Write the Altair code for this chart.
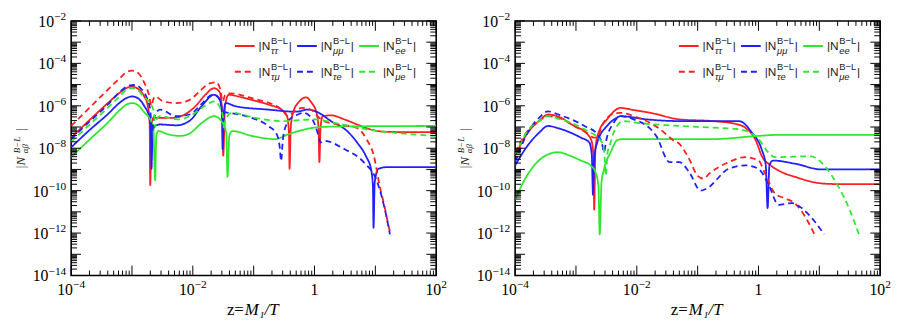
import altair as alt
import pandas as pd

# ---- series identity ----
SERIES = ["tt", "mm", "ee", "tm", "te", "me"]
SUBS = ["ττ", "μμ", "ee", "τμ", "τe", "μe"]
COLORS = ["#ff1f1f", "#1f1fff", "#2ee82e", "#ff1f1f", "#1f1fff", "#2ee82e"]
DASHES = [[1, 0], [1, 0], [1, 0], [6, 4], [6, 4], [6, 4]]

# ---- data: (log10 z, log10 |N|) ----
# left panel
L_TT = [(-4.0, -7.50), (-3.7, -6.68), (-3.4, -5.88), (-3.2, -5.38), (-3.08, -5.15), (-3.0, -5.10),
        (-2.9, -5.20), (-2.8, -5.55), (-2.74, -6.0), (-2.71, -6.8), (-2.70, -9.74), (-2.68, -7.0),
        (-2.65, -6.57), (-2.55, -6.57), (-2.35, -6.57), (-2.16, -6.45), (-1.95, -6.0), (-1.8, -5.5),
        (-1.65, -5.17), (-1.56, -5.35), (-1.52, -6.2), (-1.50, -8.35), (-1.47, -6.0), (-1.41, -5.48),
        (-1.2, -5.60), (-1.03, -5.72), (-0.75, -5.95), (-0.54, -6.18), (-0.45, -6.5), (-0.42, -7.3),
        (-0.41, -8.97), (-0.39, -7.0), (-0.35, -6.3), (-0.25, -5.8), (-0.14, -5.6), (-0.05, -5.85),
        (0.03, -6.3), (0.065, -7.0), (0.08, -8.66), (0.10, -7.0), (0.135, -6.49), (0.27, -6.45),
        (0.5, -6.65), (0.7, -6.88), (0.97, -7.15), (1.13, -7.22), (1.5, -7.24), (2.0, -7.24)]
L_TM = [(-4.0, -6.95), (-3.7, -6.1), (-3.4, -5.25), (-3.2, -4.7), (-3.08, -4.40), (-3.0, -4.34),
        (-2.9, -4.45), (-2.8, -4.9), (-2.72, -5.5), (-2.68, -6.0), (-2.65, -5.7), (-2.62, -5.56),
        (-2.49, -5.79), (-2.27, -5.87), (-2.05, -5.72), (-1.9, -5.35), (-1.73, -4.95), (-1.62, -4.89),
        (-1.55, -5.2), (-1.51, -5.8), (-1.47, -5.5), (-1.41, -5.41), (-1.03, -5.64), (-0.54, -6.18),
        (-0.43, -6.5), (-0.35, -6.3), (-0.2, -6.1), (-0.05, -6.2), (0.05, -6.5), (0.16, -6.72),
        (0.45, -6.9), (0.70, -7.05), (0.86, -7.6), (0.97, -8.3), (1.08, -9.9), (1.14, -10.6),
        (1.24, -11.9), (1.27, -12.1)]
L_MM = [(-4.0, -7.96), (-3.7, -7.15), (-3.4, -6.4), (-3.2, -5.85), (-3.08, -5.62), (-3.0, -5.56),
        (-2.9, -5.65), (-2.8, -6.0), (-2.72, -6.5), (-2.69, -7.2), (-2.68, -8.97), (-2.66, -7.2),
        (-2.62, -6.95), (-2.54, -6.88), (-2.27, -6.92), (-2.05, -6.7), (-1.85, -6.0), (-1.65, -5.48),
        (-1.56, -5.7), (-1.52, -6.4), (-1.51, -8.04), (-1.49, -6.3), (-1.46, -5.87), (-1.30, -6.02),
        (-0.76, -6.18), (-0.3, -6.28), (-0.11, -6.18), (0.05, -6.3), (0.27, -6.72), (0.54, -7.2),
        (0.70, -7.73), (0.85, -8.4), (0.93, -9.0), (0.96, -9.8), (0.97, -11.75), (0.99, -9.6),
        (1.05, -8.97), (1.19, -8.89), (2.0, -8.89)]
L_TE = [(-4.0, -7.57), (-3.7, -6.75), (-3.4, -5.95), (-3.2, -5.35), (-3.05, -5.05), (-2.95, -5.02),
        (-2.85, -5.2), (-2.76, -5.6), (-2.70, -6.2), (-2.67, -7.2), (-2.63, -6.5), (-2.54, -6.18),
        (-2.27, -6.49), (-2.05, -6.41), (-1.85, -5.9), (-1.68, -5.48), (-1.58, -5.6), (-1.53, -6.0),
        (-1.51, -6.6), (-1.48, -6.3), (-1.41, -6.33), (-1.03, -6.57), (-0.76, -6.95), (-0.62, -7.35),
        (-0.57, -8.0), (-0.55, -8.6), (-0.52, -7.6), (-0.45, -6.8), (-0.41, -6.64), (-0.27, -6.41),
        (-0.19, -6.33), (-0.05, -6.57), (0.05, -7.26), (0.10, -7.73), (0.16, -7.65), (0.49, -8.04),
        (0.81, -8.66), (1.03, -9.59), (1.15, -10.8), (1.24, -12.06)]
L_EE = [(-4.0, -8.42), (-3.7, -7.6), (-3.4, -6.8), (-3.2, -6.2), (-3.08, -5.93), (-3.0, -5.87),
        (-2.9, -5.97), (-2.8, -6.3), (-2.70, -6.64), (-2.65, -7.0), (-2.62, -9.51), (-2.60, -7.4),
        (-2.57, -7.19), (-2.4, -7.35), (-2.22, -7.42), (-2.05, -7.3), (-1.85, -6.8), (-1.65, -6.49),
        (-1.51, -6.8), (-1.45, -7.3), (-1.43, -9.35), (-1.40, -7.4), (-1.35, -7.19), (-1.03, -7.42),
        (-0.65, -7.57), (-0.43, -7.34), (0.0, -7.03), (0.32, -6.98), (2.0, -6.95)]
L_ME = [(-4.0, -7.70), (-3.7, -6.9), (-3.4, -6.1), (-3.2, -5.55), (-3.08, -5.22), (-3.0, -5.17),
        (-2.9, -5.27), (-2.8, -5.6), (-2.70, -5.87), (-2.64, -6.3), (-2.62, -7.0), (-2.59, -6.6),
        (-2.54, -6.49), (-2.22, -6.64), (-2.0, -6.4), (-1.8, -6.0), (-1.65, -5.79), (-1.55, -6.1),
        (-1.50, -6.6), (-1.49, -7.1), (-1.46, -6.6), (-1.35, -6.33), (-0.97, -6.57), (-0.54, -6.72),
        (0.0, -6.64), (0.32, -6.8), (0.86, -7.11), (1.41, -7.3), (2.0, -7.42)]

# right panel
R_TT = [(-4.0, -8.35), (-3.8, -7.3), (-3.6, -6.7), (-3.46, -6.41), (-3.3, -6.5), (-3.03, -6.95),
        (-2.81, -7.34), (-2.74, -7.7), (-2.71, -8.5), (-2.70, -10.9), (-2.68, -8.0), (-2.62, -7.2),
        (-2.49, -6.64), (-2.35, -6.2), (-2.27, -6.10), (-2.05, -6.2), (-1.78, -6.33), (-1.3, -6.64),
        (-0.76, -6.72), (-0.38, -6.85), (-0.21, -7.05), (-0.05, -7.6), (0.06, -8.4), (0.20, -8.81),
        (0.4, -9.15), (0.60, -9.35), (1.04, -9.66), (1.3, -9.69), (2.0, -9.69)]
R_TM = [(-4.0, -8.2), (-3.8, -7.2), (-3.6, -6.7), (-3.46, -6.49), (-3.3, -6.55), (-3.03, -6.95),
        (-2.81, -7.3), (-2.70, -7.5), (-2.65, -7.5), (-2.58, -7.0), (-2.50, -6.6), (-2.35, -6.35),
        (-2.27, -6.33), (-2.05, -6.49), (-1.84, -6.72), (-1.62, -7.1), (-1.41, -7.6), (-1.3, -7.8),
        (-1.14, -8.5), (-1.0, -9.3), (-0.9, -9.43), (-0.81, -9.2), (-0.49, -8.66), (-0.22, -8.42),
        (0.0, -8.58), (0.11, -9.2), (0.27, -10.13), (0.43, -10.36), (0.6, -10.6), (0.81, -11.44),
        (0.92, -12.06)]
R_MM = [(-4.0, -8.81), (-3.8, -7.9), (-3.6, -7.25), (-3.46, -6.95), (-3.3, -7.05), (-2.92, -7.5),
        (-2.78, -7.73), (-2.74, -8.3), (-2.72, -10.2), (-2.70, -8.5), (-2.65, -7.73), (-2.49, -6.95),
        (-2.35, -6.6), (-2.27, -6.49), (-1.84, -6.64), (-1.3, -6.72), (-0.32, -6.72), (-0.11, -7.26),
        (0.05, -8.04), (0.12, -8.8), (0.15, -10.82), (0.18, -8.8), (0.24, -8.58), (0.60, -8.73),
        (1.04, -9.0), (2.0, -9.0)]
R_TE = [(-4.0, -8.66), (-3.8, -7.3), (-3.6, -6.55), (-3.46, -6.26), (-3.3, -6.4), (-2.86, -6.95),
        (-2.65, -7.34), (-2.57, -7.8), (-2.54, -8.19), (-2.50, -7.6), (-2.38, -6.8), (-2.27, -6.49),
        (-2.05, -6.64), (-1.68, -7.42), (-1.46, -8.66), (-1.30, -8.66), (-1.14, -9.12), (-0.95, -10.0),
        (-0.85, -9.9), (-0.49, -8.97), (-0.21, -8.81), (0.0, -8.97), (0.17, -9.74), (0.33, -10.67),
        (0.55, -10.59), (0.71, -10.82), (0.92, -11.44), (1.08, -12.06)]
R_EE = [(-4.0, -10.44), (-3.9, -9.8), (-3.73, -8.97), (-3.5, -8.35), (-3.30, -8.19), (-3.1, -8.35),
        (-2.92, -8.58), (-2.76, -8.81), (-2.68, -9.12), (-2.63, -9.8), (-2.61, -12.06), (-2.58, -9.6),
        (-2.54, -9.0), (-2.43, -8.19), (-2.32, -7.62), (-2.22, -7.57), (-1.84, -7.57), (-0.76, -7.57),
        (0.0, -7.42), (0.32, -7.37), (2.0, -7.37)]
R_ME = [(-4.0, -8.3), (-3.8, -7.2), (-3.6, -6.7), (-3.46, -6.49), (-3.3, -6.6), (-2.86, -7.11),
        (-2.57, -7.73), (-2.53, -8.4), (-2.51, -9.28), (-2.48, -8.2), (-2.43, -7.73), (-2.38, -7.26),
        (-2.22, -6.72), (-2.0, -6.8), (-1.3, -6.95), (-0.76, -7.03), (-0.32, -7.11), (0.0, -7.57),
        (0.16, -8.19), (0.27, -8.42), (0.86, -8.38), (1.08, -8.81), (1.3, -9.74), (1.51, -10.98),
        (1.65, -12.06)]

LEFT = dict(zip(SERIES, [L_TT, L_MM, L_EE, L_TM, L_TE, L_ME]))
RIGHT = dict(zip(SERIES, [R_TT, R_MM, R_EE, R_TM, R_TE, R_ME]))

# ---- axis tick labels: base and exponent ----
X_TICKS = [1e-4, 1e-2, 1.0, 1e2]
X_BASE = ["10", "10", "1", "10"]
X_POW = ["−4", "−2", "", "2"]
Y_TICKS = [1e-2, 1e-4, 1e-6, 1e-8, 1e-10, 1e-12, 1e-14]
Y_BASE = ["10"] * 7
Y_POW = ["−2", "−4", "−6", "−8", "−10", "−12", "−14"]
X_TITLE_A = "z="
X_TITLE_B = "M₁/T"

W, H = 370, 258
SERIF = "Liberation Serif"
SANS = "Liberation Sans"
BASE_FS, POW_FS = 16, 11.5

xscale = alt.Scale(type="log", domain=[1e-4, 1e2], nice=False)
yscale = alt.Scale(type="log", domain=[1e-14, 1e-2], nice=False)
cscale = alt.Scale(domain=SERIES, range=COLORS)
dscale = alt.Scale(domain=SERIES, range=DASHES)

XMAJ = [10.0 ** k for k in range(-4, 3)]
XMIN = [m * 10.0 ** k for k in range(-4, 2) for m in range(2, 10)]
YMAJ = [10.0 ** k for k in range(-14, -1)]
YMIN = [m * 10.0 ** k for k in range(-14, -2) for m in range(2, 10)]


def text_w(s, fs):
    # approximate advance width of digits / minus sign in a Times-like font
    return sum((0.564 if ch == "−" else 0.5) * fs for ch in s)


def tick_rules():
    layers = []
    for vals, ln in ((XMAJ, 10), (XMIN, 5)):
        d = pd.DataFrame({"v": vals})
        b = alt.Chart(d).mark_rule(color="black", strokeWidth=1)
        layers.append(b.encode(x=alt.X("v:Q", scale=xscale, axis=None),
                               y=alt.value(H), y2=alt.value(H - ln)))
        layers.append(b.encode(x=alt.X("v:Q", scale=xscale, axis=None),
                               y=alt.value(0), y2=alt.value(ln)))
    for vals, ln in ((YMAJ, 10), (YMIN, 6)):
        d = pd.DataFrame({"v": vals})
        b = alt.Chart(d).mark_rule(color="black", strokeWidth=1)
        layers.append(b.encode(y=alt.Y("v:Q", scale=yscale, axis=None),
                               x=alt.value(0), x2=alt.value(ln)))
        layers.append(b.encode(y=alt.Y("v:Q", scale=yscale, axis=None),
                               x=alt.value(W), x2=alt.value(W - ln)))
    return layers


def label_layers():
    out = []
    for v, b, p in zip(X_TICKS, X_BASE, X_POW):
        bw, pw = text_w(b, BASE_FS), text_w(p, POW_FS)
        start = -(bw + pw) / 2
        d = pd.DataFrame({"v": [v], "b": [b], "p": [p]})
        out.append(alt.Chart(d).mark_text(align="left", baseline="alphabetic", dx=start, font=SERIF,
                                          fontSize=BASE_FS, color="black").encode(
            x=alt.X("v:Q", scale=xscale, axis=None), y=alt.value(H + 20), text="b:N"))
        if p:
            out.append(alt.Chart(d).mark_text(align="left", baseline="alphabetic", dx=start + bw,
                                              font=SERIF, fontSize=POW_FS, color="black").encode(
                x=alt.X("v:Q", scale=xscale, axis=None), y=alt.value(H + 13), text="p:N"))
    for v, b, p in zip(Y_TICKS, Y_BASE, Y_POW):
        pw = text_w(p, POW_FS)
        d = pd.DataFrame({"v": [v], "b": [b], "p": [p]})
        out.append(alt.Chart(d).mark_text(align="right", baseline="alphabetic", dy=6, font=SERIF,
                                          fontSize=BASE_FS, color="black").encode(
            y=alt.Y("v:Q", scale=yscale, axis=None), x=alt.value(-5 - pw), text="b:N"))
        out.append(alt.Chart(d).mark_text(align="right", baseline="alphabetic", dy=-1, font=SERIF,
                                          fontSize=POW_FS, color="black").encode(
            y=alt.Y("v:Q", scale=yscale, axis=None), x=alt.value(-5), text="p:N"))
    ta = alt.Chart(pd.DataFrame({"t": [X_TITLE_A]})).mark_text(
        align="right", baseline="alphabetic", font=SERIF, fontSize=17, color="black").encode(
        x=alt.value(W / 2 - 10), y=alt.value(H + 40), text="t:N")
    tb = alt.Chart(pd.DataFrame({"t": [X_TITLE_B]})).mark_text(
        align="left", baseline="alphabetic", font=SERIF, fontSize=17, fontStyle="italic",
        color="black").encode(x=alt.value(W / 2 - 9), y=alt.value(H + 40), text="t:N")
    return out + [ta, tb]


def legend_layers():
    leg = pd.DataFrame({"series": SERIES, "sub": SUBS,
                        "col": [0, 1, 2, 0, 1, 2], "row": [0, 0, 0, 1, 1, 1]})
    leg["x0"] = 166 + 63 * leg["col"]
    leg["x1"] = leg["x0"] + 20
    leg["ly"] = 25.5 + 26 * leg["row"]
    leg["tx"] = leg["x0"] + 24
    leg["sx"] = leg["x0"] + 36.5
    leg["cx"] = leg["x0"] + 54.5
    leg["supy"] = leg["ly"] - 5
    leg["suby"] = leg["ly"] + 5
    leg["main"] = "|N"
    leg["sup"] = "B−L"
    leg["bar"] = "|"
    base = alt.Chart(leg)
    rule = base.mark_rule(strokeWidth=2).encode(
        x=alt.X("x0:Q", scale=None, axis=None), x2="x1:Q",
        y=alt.Y("ly:Q", scale=None, axis=None),
        color=alt.Color("series:N", scale=cscale, legend=None),
        strokeDash=alt.StrokeDash("series:N", scale=dscale, legend=None))
    t_main = base.mark_text(align="left", baseline="middle", font=SANS, fontSize=12, color="#222").encode(
        x=alt.X("tx:Q", scale=None, axis=None), y=alt.Y("ly:Q", scale=None, axis=None), text="main:N")
    t_sup = base.mark_text(align="left", baseline="middle", font=SANS, fontSize=9.5, color="#222").encode(
        x=alt.X("sx:Q", scale=None, axis=None), y=alt.Y("supy:Q", scale=None, axis=None), text="sup:N")
    t_sub = base.mark_text(align="left", baseline="middle", font=SANS, fontSize=9.5, fontStyle="italic",
                           color="#222").encode(
        x=alt.X("sx:Q", scale=None, axis=None), y=alt.Y("suby:Q", scale=None, axis=None), text="sub:N")
    t_bar = base.mark_text(align="left", baseline="middle", font=SANS, fontSize=12, color="#222").encode(
        x=alt.X("cx:Q", scale=None, axis=None), y=alt.Y("ly:Q", scale=None, axis=None), text="bar:N")
    return [rule, t_main, t_sup, t_sub, t_bar]


def ytitle_layers():
    parts = pd.DataFrame({"t": ["|N", "B−L", "αβ", "|"],
                          "px": [-51, -55, -47, -51],
                          "py": [150, 134, 134, 112],
                          "fs": [13, 9, 9, 13]})
    out = []
    for _, r in parts.iterrows():
        out.append(alt.Chart(pd.DataFrame({"t": [r["t"]]})).mark_text(
            angle=270, align="left", baseline="middle", font=SERIF, fontStyle="italic",
            fontSize=float(r["fs"]), color="#222").encode(
            text="t:N", x=alt.value(float(r["px"])), y=alt.value(float(r["py"]))))
    return out


def panel(data):
    rows = []
    for name, pts in data.items():
        for i, (lz, ln) in enumerate(pts):
            rows.append({"series": name, "i": i, "z": 10.0 ** lz, "N": 10.0 ** ln})
    df = pd.DataFrame(rows)
    lines = alt.Chart(df).mark_line(strokeWidth=1.8, interpolate="monotone", clip=True).encode(
        x=alt.X("z:Q", scale=xscale, axis=None),
        y=alt.Y("N:Q", scale=yscale, axis=None),
        color=alt.Color("series:N", scale=cscale, legend=None),
        strokeDash=alt.StrokeDash("series:N", scale=dscale, legend=None),
        order=alt.Order("i:Q"),
    )
    return alt.layer(lines, *tick_rules(), *label_layers(), *legend_layers(),
                     *ytitle_layers()).properties(width=W, height=H)


chart = alt.hconcat(panel(LEFT), panel(RIGHT), spacing=80, bounds="flush").configure_view(
    stroke="black", strokeWidth=1.6).properties(padding={"left": 4, "top": 0, "right": 0, "bottom": 0})

chart.save("out.html", embed_options={"renderer": "svg", "actions": False})
